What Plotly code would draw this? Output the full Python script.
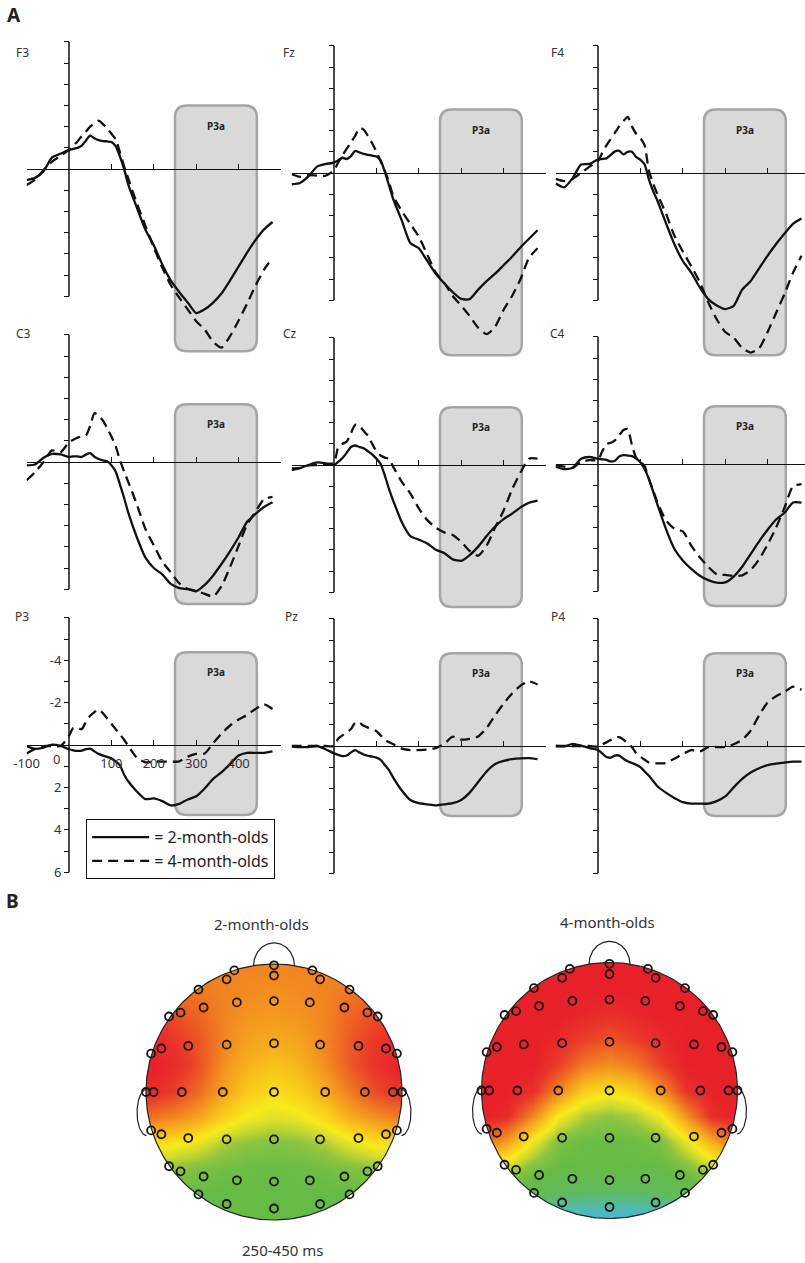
import numpy as np
import plotly.graph_objects as go

W, H = 805, 1263
FONT = "Noto Sans"

# ---------------- DATA ----------------
T = [-100, -80, -60, -40, -20,
     0, 10, 20, 30, 40, 50, 60, 70, 80, 90, 100, 110, 120, 130, 140,
     160, 180, 200, 220, 240, 260, 280, 300, 320, 340, 360, 380, 400, 420, 440, 460, 480]

CHANNELS = ["F3", "Fz", "F4", "C3", "Cz", "C4", "P3", "Pz", "P4"]

F3_2M = [0.52, 0.42, 0.1, -0.55, -0.72,
         -0.9, -0.95, -1.0, -1.1, -1.35, -1.57, -1.45, -1.36, -1.32, -1.3, -1.27, -1.08, -0.6, 0.0, 0.75,
         1.82, 2.85, 3.6, 4.5, 5.25, 5.8, 6.3, 6.8, 6.62, 6.3, 5.86, 5.25, 4.6, 3.95, 3.35, 2.85, 2.5]
F3_4M = [0.76, 0.5, 0.05, -0.35, -0.62,
         -0.9, -1.1, -1.3, -1.55, -1.77, -2.0, -2.15, -2.28, -2.12, -1.93, -1.66, -1.4, -0.8, -0.13, 0.47,
         1.62, 2.67, 3.7, 4.65, 5.47, 6.07, 6.62, 7.18, 7.57, 8.15, 8.42, 7.88, 7.15, 6.35, 5.5, 4.75, 4.2]

FZ_2M = [0.53, 0.47, 0.15, -0.3, -0.42,
         -0.49, -0.6, -0.72, -0.66, -0.8, -1.04, -0.97, -0.9, -0.86, -0.82, -0.78, -0.6, -0.05, 0.6, 1.25,
         2.25, 3.3, 3.55, 4.15, 4.75, 5.2, 5.62, 5.94, 5.95, 5.5, 5.1, 4.75, 4.35, 3.95, 3.5, 3.1, 2.7]
FZ_4M = [0.06, 0.18, 0.1, 0.12, 0.13,
         -0.13, -0.5, -0.82, -1.15, -1.45, -1.75, -2.12, -2.05, -1.75, -1.4, -1.0, -0.55, -0.1, 0.45, 1.1,
         1.8, 2.4, 3.0, 3.85, 4.7, 5.18, 5.8, 6.25, 6.75, 7.3, 7.6, 7.25, 6.45, 5.8, 5.0, 4.0, 3.55]

F4_2M = [0.5, 0.68, 0.25, -0.4, -0.43,
         -0.64, -0.66, -0.69, -0.85, -1.02, -1.05, -0.88, -1.0, -1.0, -0.75, -0.62, -0.4, 0.3, 0.85, 1.3,
         2.35, 3.35, 4.15, 4.7, 5.4, 5.95, 6.25, 6.42, 6.27, 5.5, 5.1, 4.5, 3.9, 3.35, 2.85, 2.4, 2.15]
F4_4M = [0.28, 0.38, 0.28, 0.0, -0.3,
         -0.57, -0.95, -1.3, -1.6, -1.9, -2.2, -2.45, -2.65, -2.2, -1.85, -1.65, -1.3, -0.1, 0.5, 1.0,
         1.9, 2.95, 3.7, 4.4, 5.15, 6.1, 6.9, 7.5, 7.77, 8.25, 8.47, 8.27, 7.5, 6.6, 5.7, 4.7, 3.9]

C3_2M = [0.16, 0.12, -0.2, -0.38, -0.36,
         -0.24, -0.27, -0.26, -0.24, -0.35, -0.42, -0.25, -0.14, -0.08, -0.03, 0.15, 0.45, 1.05, 1.7, 2.4,
         3.55, 4.5, 5.0, 5.3, 5.75, 5.95, 6.0, 6.1, 5.8, 5.35, 4.8, 4.2, 3.55, 2.82, 2.45, 2.12, 1.9]
C3_4M = [0.86, 0.48, 0.0, -0.55, -0.45,
         -0.94, -1.05, -1.15, -1.2, -1.26, -1.7, -2.3, -2.2, -1.95, -1.6, -1.2, -0.75, -0.1, 0.45, 0.95,
         2.0, 3.15, 3.93, 4.7, 5.2, 5.72, 5.98, 6.08, 6.22, 6.35, 5.85, 4.95, 3.95, 2.95, 2.35, 1.75, 1.65]

CZ_2M = [0.16, 0.14, 0.0, -0.12, -0.08,
         0.0, -0.15, -0.33, -0.58, -0.85, -0.92, -0.85, -0.79, -0.65, -0.5, -0.3, -0.05, 0.5, 1.15, 1.7,
         2.7, 3.35, 3.52, 3.7, 4.0, 4.15, 4.45, 4.52, 4.25, 3.85, 3.35, 2.9, 2.55, 2.3, 2.0, 1.78, 1.68]
CZ_4M = [0.24, 0.15, 0.02, 0.0, -0.05,
         -0.1, -0.85, -1.0, -1.1, -1.5, -1.9, -1.85, -1.6, -1.38, -1.0, -0.65, -0.45, -0.35, -0.28, 0.1,
         0.8, 1.34, 2.05, 2.6, 2.95, 3.18, 3.3, 3.62, 4.05, 4.28, 3.8, 2.95, 2.15, 1.15, 0.35, -0.3, -0.3]

C4_2M = [0.13, 0.24, 0.18, -0.25, -0.33,
         -0.24, -0.22, -0.19, -0.12, -0.15, -0.35, -0.42, -0.4, -0.37, -0.26, -0.08, 0.25, 0.7, 1.3, 1.9,
         3.05, 4.0, 4.55, 4.95, 5.27, 5.48, 5.6, 5.58, 5.31, 4.85, 4.25, 3.65, 3.1, 2.62, 2.3, 1.82, 1.82]
C4_4M = [0.05, 0.12, 0.18, -0.1, -0.18,
         -0.19, -0.6, -0.95, -1.0, -1.12, -1.35, -1.6, -1.65, -0.9, -0.3, -0.12, 0.1, 0.7, 1.25, 1.8,
         2.65, 3.05, 3.18, 3.85, 4.4, 4.85, 5.2, 5.23, 5.28, 5.25, 5.0, 4.5, 3.8, 3.0, 2.05, 1.05, 0.95]

P3_2M = [0.05, 0.18, 0.12, -0.02, 0.04,
         0.2, 0.25, 0.28, 0.27, 0.2, 0.17, 0.3, 0.42, 0.5, 0.56, 0.63, 0.77, 0.95, 1.4, 1.72,
         2.19, 2.55, 2.52, 2.65, 2.85, 2.78, 2.57, 2.42, 2.05, 1.6, 1.28, 0.9, 0.5, 0.37, 0.37, 0.37, 0.3]
P3_4M = [0.4, 0.18, 0.05, 0.05, 0.05,
         -0.43, -0.8, -0.8, -0.75, -1.1, -1.38, -1.55, -1.68, -1.5, -1.25, -1.0, -0.75, -0.5, -0.25, 0.05,
         0.6, 0.82, 0.78, 0.78, 0.79, 0.77, 0.55, 0.42, 0.4, -0.08, -0.55, -0.92, -1.2, -1.42, -1.7, -1.92, -1.7]

PZ_2M = [0.03, 0.05, 0.05, 0.0, 0.15,
         0.35, 0.42, 0.48, 0.45, 0.3, 0.19, 0.3, 0.4, 0.46, 0.5, 0.55, 0.65, 0.9, 1.15, 1.5,
         2.1, 2.55, 2.7, 2.75, 2.8, 2.75, 2.7, 2.55, 2.2, 1.7, 1.2, 0.85, 0.7, 0.62, 0.58, 0.57, 0.62]
PZ_4M = [0.0, 0.0, 0.0, 0.0, 0.0,
         0.0, -0.35, -0.5, -0.65, -0.8, -1.1, -1.1, -0.95, -0.87, -0.8, -0.7, -0.5, -0.28, -0.18, -0.08,
         0.12, 0.19, 0.19, 0.17, 0.1, -0.1, -0.44, -0.3, -0.34, -0.45, -0.85, -1.45, -2.0, -2.48, -2.85, -3.05, -2.9]

P4_2M = [0.0, 0.02, -0.1, -0.02, 0.1,
         0.19, 0.35, 0.52, 0.55, 0.45, 0.45, 0.6, 0.72, 0.8, 0.88, 1.0, 1.2, 1.4, 1.65, 1.9,
         2.2, 2.45, 2.65, 2.72, 2.72, 2.72, 2.6, 2.38, 1.95, 1.55, 1.25, 1.05, 0.9, 0.83, 0.78, 0.74, 0.74]
P4_4M = [0.0, 0.0, 0.0, 0.0, 0.0,
         0.03, -0.08, -0.17, -0.28, -0.4, -0.42, -0.3, -0.12, 0.05, 0.33, 0.5, 0.65, 0.78, 0.82, 0.82,
         0.8, 0.6, 0.38, 0.19, 0.26, 0.05, 0.05, 0.05, -0.08, -0.3, -0.72, -1.45, -2.05, -2.35, -2.55, -2.8, -2.65]

SERIES = {
    "F3": (F3_2M, F3_4M), "Fz": (FZ_2M, FZ_4M), "F4": (F4_2M, F4_4M),
    "C3": (C3_2M, C3_4M), "Cz": (CZ_2M, CZ_4M), "C4": (C4_2M, C4_4M),
    "P3": (P3_2M, P3_4M), "Pz": (PZ_2M, PZ_4M), "P4": (P4_2M, P4_4M),
}

GROUP_NAMES = ["= 2-month-olds", "= 4-month-olds"]
P3A_WINDOW = [250, 443]
Y_TICKS = [-6, -5, -4, -3, -2, -1, 0, 1, 2, 3, 4, 5, 6]
Y_TICKTEXT = ["", "", "-4", "", "-2", "", "", "", "2", "", "4", "", "6"]
X_TICKS = [-100, 100, 200, 300, 400]
X_TICKTEXT = ["-100", "100", "200", "300", "400"]

# Topographic maps: colour level on an 11x11 grid (rows from front v=1 to back v=-1)
GRID = [-1.0, -0.8, -0.6, -0.4, -0.2, 0.0, 0.2, 0.4, 0.6, 0.8, 1.0]
TOPO_2M = [
    [0.80, 0.80, 0.80, 0.80, 0.80, 0.80, 0.80, 0.80, 0.80, 0.80, 0.80],
    [0.86, 0.84, 0.82, 0.80, 0.79, 0.78, 0.79, 0.80, 0.82, 0.84, 0.86],
    [0.92, 0.90, 0.86, 0.80, 0.77, 0.76, 0.77, 0.80, 0.86, 0.90, 0.92],
    [0.98, 0.95, 0.89, 0.80, 0.74, 0.72, 0.74, 0.80, 0.88, 0.94, 0.97],
    [1.00, 0.97, 0.90, 0.78, 0.70, 0.67, 0.70, 0.78, 0.88, 0.95, 0.99],
    [0.97, 0.93, 0.85, 0.74, 0.65, 0.61, 0.64, 0.72, 0.82, 0.90, 0.95],
    [0.84, 0.80, 0.74, 0.64, 0.57, 0.54, 0.56, 0.62, 0.72, 0.78, 0.82],
    [0.62, 0.60, 0.55, 0.48, 0.44, 0.43, 0.44, 0.48, 0.55, 0.60, 0.62],
    [0.46, 0.44, 0.42, 0.40, 0.39, 0.38, 0.39, 0.40, 0.42, 0.44, 0.46],
    [0.38, 0.38, 0.38, 0.38, 0.38, 0.38, 0.38, 0.38, 0.38, 0.38, 0.38],
    [0.38, 0.38, 0.38, 0.38, 0.38, 0.38, 0.38, 0.38, 0.38, 0.38, 0.38],
]
TOPO_4M = [
    [1.00, 1.00, 1.00, 1.00, 1.00, 1.00, 1.00, 1.00, 1.00, 1.00, 1.00],
    [1.00, 1.00, 1.00, 1.00, 1.00, 1.00, 1.00, 1.00, 1.00, 1.00, 1.00],
    [1.00, 1.00, 1.00, 1.00, 0.98, 0.96, 0.98, 1.00, 1.00, 1.00, 1.00],
    [1.00, 1.00, 1.00, 0.97, 0.92, 0.88, 0.92, 0.97, 1.00, 1.00, 1.00],
    [1.00, 1.00, 1.00, 0.92, 0.82, 0.78, 0.82, 0.92, 1.00, 1.00, 1.00],
    [1.00, 1.00, 0.96, 0.80, 0.65, 0.60, 0.65, 0.78, 0.95, 1.00, 1.00],
    [1.00, 0.97, 0.80, 0.58, 0.48, 0.45, 0.48, 0.57, 0.78, 0.96, 1.00],
    [0.85, 0.75, 0.56, 0.42, 0.39, 0.38, 0.39, 0.42, 0.55, 0.72, 0.85],
    [0.55, 0.50, 0.42, 0.38, 0.38, 0.38, 0.38, 0.38, 0.42, 0.50, 0.55],
    [0.38, 0.36, 0.33, 0.30, 0.28, 0.27, 0.28, 0.30, 0.33, 0.36, 0.38],
    [0.15, 0.12, 0.10, 0.08, 0.06, 0.05, 0.06, 0.08, 0.10, 0.12, 0.15],
]
TOPO_COLORSCALE = [
    [0.00, "#3cb9ea"], [0.15, "#52bbb0"], [0.30, "#62ba5a"], [0.38, "#66bb46"],
    [0.45, "#90c540"], [0.52, "#d4dc2c"], [0.58, "#f7ea1c"], [0.66, "#f8c81a"],
    [0.76, "#f49a1f"], [0.86, "#ee6324"], [0.94, "#e9352a"], [1.00, "#e8202a"],
]
ELEC_U = [0, 0, -0.31, 0.30, -0.37, 0.36, -0.59, 0.59,
          -0.29, 0, 0.28, -0.55, 0.55, -0.73, 0.73, -0.82, 0.81,
          0, -0.37, 0.36, -0.67, 0.66, -0.88, 0.875, -0.96, 0.96,
          -1.0, -0.94, -0.72, -0.40, 0, 0.40, 0.71, 0.93, 1.0,
          -0.96, -0.88, -0.67, -0.37, 0, 0.36, 0.66, 0.875, 0.96,
          -0.82, -0.73, -0.55, -0.29, 0, 0.28, 0.55, 0.73, 0.81,
          -0.59, 0.59, -0.37, 0.36, 0]
ELEC_V = [0.99, 0.91, 0.95, 0.95, 0.88, 0.88, 0.80, 0.80,
          0.70, 0.71, 0.70, 0.66, 0.66, 0.62, 0.62, 0.59, 0.59,
          0.38, 0.37, 0.37, 0.36, 0.36, 0.34, 0.34, 0.30, 0.30,
          0, 0, 0, 0, 0, 0, 0, 0, 0,
          -0.30, -0.33, -0.36, -0.37, -0.37, -0.37, -0.36, -0.33, -0.30,
          -0.58, -0.62, -0.66, -0.69, -0.70, -0.69, -0.66, -0.62, -0.58,
          -0.80, -0.80, -0.875, -0.875, -0.91]

# ---------------- LAYOUT GEOMETRY (pixels) ----------------
COL_X0 = [69, 334, 598]
ROW_Y0 = [[169, 173, 173], [462, 465, 464], [745, 746, 746]]
PX_MS = 0.424
PX_UV = 21.2
Y_TOP = -6.25
Y_BOTTOM = [9.6, 7.2, 6.3]
BOX_TOP = [-3.0, -2.72, -4.38]
BOX_BOTTOM = [8.6, 6.7, 3.3]
LABEL_POS = [[(22, 53), (289, 53), (557, 53)],
             [(23, 334), (290, 334), (557, 334)],
             [(22, 616), (291, 616), (558, 616)]]

fig = go.Figure()
layout = dict(width=W, height=H, margin=dict(l=0, r=0, t=0, b=0, pad=0, autoexpand=False),
              autosize=False, paper_bgcolor="white", plot_bgcolor="rgba(0,0,0,0)", showlegend=True)
shapes, annotations = [], []


def rounded_box(x0, x1, y0, y1, rx, ry):
    return (f"M {x0+rx},{y0} L {x1-rx},{y0} Q {x1},{y0} {x1},{y0+ry} "
            f"L {x1},{y1-ry} Q {x1},{y1} {x1-rx},{y1} L {x0+rx},{y1} "
            f"Q {x0},{y1} {x0},{y1-ry} L {x0},{y0+ry} Q {x0},{y0} {x0+rx},{y0} Z")


def paper_text(x, y, text, size, color="#333333", bold=False):
    return dict(xref="paper", yref="paper", x=x / W, y=1 - y / H,
                xanchor="center", yanchor="middle", showarrow=False,
                text=f"<b>{text}</b>" if bold else text,
                font=dict(family=FONT, size=size, color=color))


for r in range(3):
    for c in range(3):
        i = r * 3 + c
        n = i + 1
        ch = CHANNELS[i]
        xa = "x" if n == 1 else f"x{n}"
        ya = "y" if n == 1 else f"y{n}"
        x0 = COL_X0[c]
        y0 = ROW_Y0[r][c]
        xmax = min(500, (W - x0) / PX_MS)
        xdom = [(x0 - 100 * PX_MS) / W, min(1.0, (x0 + xmax * PX_MS) / W)]
        ydom = [max(0.0, 1 - (y0 + Y_BOTTOM[r] * PX_UV) / H), 1 - (y0 + Y_TOP * PX_UV) / H]
        show_labels = (ch == "P3")

        two, four = SERIES[ch]
        fig.add_trace(go.Scatter(x=T, y=two, xaxis=xa, yaxis=ya, mode="lines",
                                 line=dict(color="#111111", width=2.3, shape="spline", smoothing=0.6),
                                 name=GROUP_NAMES[0], showlegend=(n == 1), hoverinfo="skip"))
        fig.add_trace(go.Scatter(x=T, y=four, xaxis=xa, yaxis=ya, mode="lines",
                                 line=dict(color="#111111", width=2.3, dash="10px,6px",
                                           shape="spline", smoothing=0.6),
                                 name=GROUP_NAMES[1], showlegend=(n == 1), hoverinfo="skip"))

        layout["xaxis" if n == 1 else f"xaxis{n}"] = dict(
            domain=xdom, range=[-100, xmax], anchor="free", position=1 - y0 / H,
            automargin=False,
            showline=True, linecolor="#111111", linewidth=1.4, showgrid=False, zeroline=False,
            ticks="inside", ticklen=5, tickwidth=1.3, tickcolor="#111111",
            tickvals=X_TICKS, ticktext=X_TICKTEXT, showticklabels=show_labels,
            ticklabelstandoff=6,
            tickfont=dict(family=FONT, size=13, color="#333333"))
        layout["yaxis" if n == 1 else f"yaxis{n}"] = dict(
            domain=ydom, range=[Y_BOTTOM[r], Y_TOP], anchor="free", position=x0 / W,
            automargin=False,
            showline=False, showgrid=False, zeroline=False,
            ticks="outside", ticklen=5, tickwidth=1.3, tickcolor="#111111",
            tickvals=Y_TICKS, ticktext=Y_TICKTEXT, showticklabels=show_labels,
            tickfont=dict(family=FONT, size=13, color="#333333"))

        # y-axis line (spans -6..6 only)
        shapes.append(dict(type="line", xref=xa, yref=ya, x0=0, x1=0, y0=-6, y1=6,
                           line=dict(color="#111111", width=1.5), layer="above"))
        # P3a window
        shapes.append(dict(type="path", xref=xa, yref=ya,
                           path=rounded_box(P3A_WINDOW[0], P3A_WINDOW[1], BOX_TOP[r], BOX_BOTTOM[r],
                                            12 / PX_MS, 12 / PX_UV),
                           fillcolor="#d9d9d9", line=dict(color="#a5a5a5", width=2.5), layer="below"))
        annotations.append(dict(xref=xa, yref=ya, x=(P3A_WINDOW[0] + P3A_WINDOW[1]) / 2,
                                y=BOX_TOP[r] + 0.95, text="<b>P3a</b>", showarrow=False,
                                xanchor="center", yanchor="middle",
                                font=dict(family=FONT, size=10, color="#222222")))
        lx, ly = LABEL_POS[r][c]
        annotations.append(paper_text(lx, ly, ch, 12))
        if show_labels:
            annotations.append(dict(xref=xa, yref=ya, x=0, y=0, text="0", showarrow=False,
                                    xanchor="right", yanchor="top", xshift=-7, yshift=-3,
                                    font=dict(family=FONT, size=13, color="#333333")))

# ---------------- TOPOGRAPHIC MAPS ----------------
HEADS = [("2-month-olds", TOPO_2M, (274, 1092)), ("4-month-olds", TOPO_4M, (609.5, 1090.5))]
HALF_PX = 160
UNIT_PX = 128
RNG = HALF_PX / UNIT_PX

theta_c = np.linspace(np.pi, -np.pi, 241)
circ_x = np.cos(theta_c)
circ_y = np.sin(theta_c)
mask_x = [-1.6, -1.6, 1.6, 1.6, -1.6, -1.6] + list(circ_x) + [-1.6]
mask_y = [0, -1.6, -1.6, 1.6, 1.6, 0] + list(circ_y) + [0]
th_n = np.linspace(np.pi, 0, 60)
nose_x = 0.16 * np.cos(th_n)
nose_y = 0.985 + 0.18 * np.sin(th_n)
th_e = np.linspace(np.pi / 2, 3 * np.pi / 2, 60)
ear_lx = -0.995 + 0.075 * np.cos(th_e)
ear_y = -0.16 + 0.18 * np.sin(th_e)
ear_rx = -ear_lx

for k, (title, grid_vals, (cx, cy)) in enumerate(HEADS):
    n = 10 + k
    xa, ya = f"x{n}", f"y{n}"
    layout[f"xaxis{n}"] = dict(domain=[(cx - HALF_PX) / W, (cx + HALF_PX) / W], range=[-RNG, RNG],
                               visible=False, anchor=ya, fixedrange=True, automargin=False)
    layout[f"yaxis{n}"] = dict(domain=[1 - (cy + HALF_PX) / H, 1 - (cy - HALF_PX) / H],
                               range=[-RNG, RNG], visible=False, anchor=xa, fixedrange=True,
                               automargin=False)
    fig.add_trace(go.Heatmap(x=GRID, y=GRID[::-1], z=grid_vals, xaxis=xa, yaxis=ya,
                             colorscale=TOPO_COLORSCALE, zmin=0, zmax=1, zsmooth="best",
                             showscale=False, hoverinfo="skip"))
    fig.add_trace(go.Scatter(x=mask_x, y=mask_y, xaxis=xa, yaxis=ya, mode="lines", fill="toself",
                             fillcolor="white", line=dict(width=0, color="white"),
                             showlegend=False, hoverinfo="skip"))
    for px_, py_ in [(circ_x, circ_y), (nose_x, nose_y), (ear_lx, ear_y), (ear_rx, ear_y)]:
        fig.add_trace(go.Scatter(x=px_, y=py_, xaxis=xa, yaxis=ya, mode="lines",
                                 line=dict(color="#222222", width=1.2), showlegend=False,
                                 hoverinfo="skip"))
    fig.add_trace(go.Scatter(x=ELEC_U, y=ELEC_V, xaxis=xa, yaxis=ya, mode="markers",
                             marker=dict(symbol="circle-open", size=8, color="#151515",
                                         line=dict(width=1.8, color="#151515")),
                             showlegend=False, hoverinfo="skip"))

annotations += [
    paper_text(261, 924, "2-month-olds", 15),
    paper_text(607.5, 922, "4-month-olds", 15),
    paper_text(282, 1250, "250-450 ms", 15),
    paper_text(14, 15, "A", 19, "#222222", bold=True),
    paper_text(12, 901, "B", 19, "#222222", bold=True),
]

layout["shapes"] = shapes
layout["annotations"] = annotations
layout["legend"] = dict(x=86 / W, y=1 - 819 / H, xanchor="left", yanchor="top", bgcolor="white",
                        bordercolor="#111111", borderwidth=1.2, itemwidth=57, tracegroupgap=0,
                        font=dict(family=FONT, size=16, color="#222222"))
fig.update_layout(**layout)
fig.write_html("out.html")
